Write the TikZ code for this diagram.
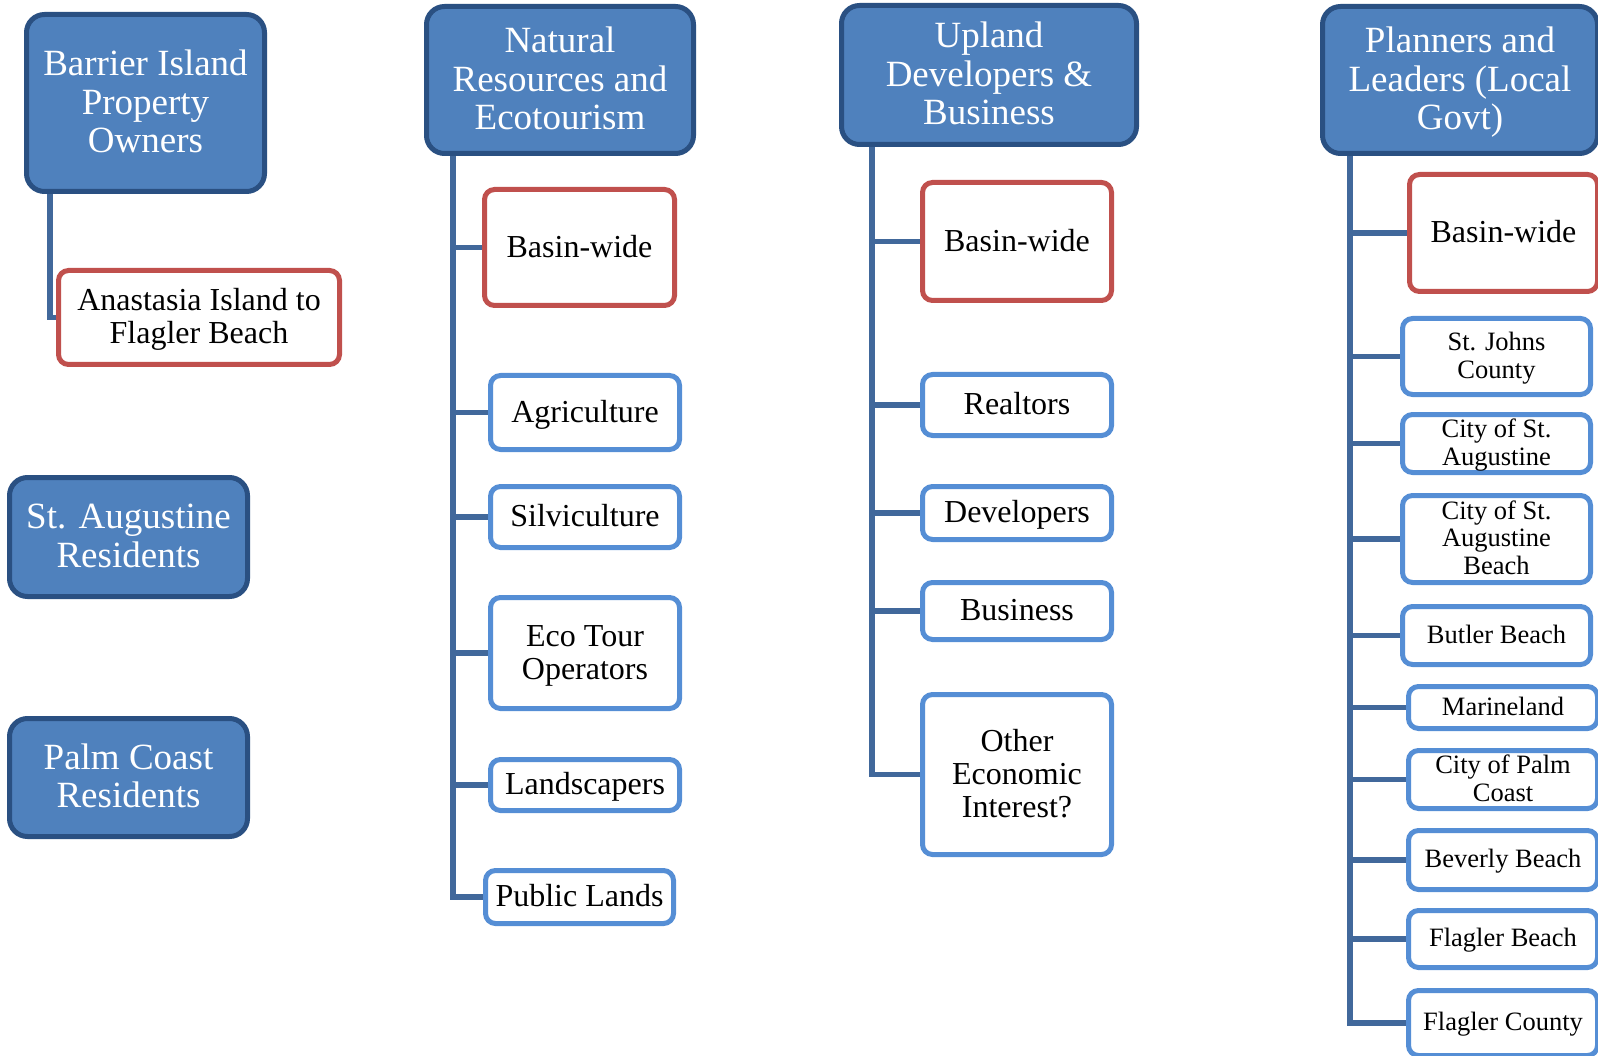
\documentclass[tikz,border=0pt]{standalone}
\usepackage{fontspec}
\setmainfont{Liberation Serif}
\usetikzlibrary{backgrounds}
\definecolor{hdrfill}{HTML}{4F81BD}
\definecolor{hdrline}{HTML}{2A5082}
\definecolor{kidblue}{HTML}{558ED5}
\definecolor{kidred}{HTML}{C0504D}
\definecolor{connc}{HTML}{41689B}
\newcommand{\fs}{\rule[-0.25em]{0pt}{1.1em}}
\newcommand{\nls}{\lineskiplimit=-1000pt\relax}
\begin{document}
\begin{tikzpicture}[x=1pt,y=-1pt,
  hdr/.style={draw=hdrline, fill=hdrfill, line width=5pt, rounded corners=18pt,
    text=white, font={\fontsize{37}{38.5}\selectfont\nls}, align=center, inner sep=0pt},
  kid/.style={draw=kidblue, fill=white, line width=5pt, rounded corners=10pt,
    text=black, font={\fontsize{32}{33}\selectfont\nls}, align=center, inner sep=0pt},
  kidr/.style={kid, draw=kidred},
  smalltxt/.style={font={\fontsize{26.5}{27.5}\selectfont\nls}},
  conn/.style={draw=connc, line width=5.5pt}]
\useasboundingbox (0,0) rectangle (1598,1056);
\clip (0,0) rectangle (1598,1056);

% trunk coordinates
\coordinate (t1) at (50,190);
\coordinate (t2) at (453,150);
\coordinate (t3) at (872,140);
\coordinate (t4) at (1350,150);

% ---------- nodes ----------
\path
  node[hdr, minimum width=238, minimum height=177] (h1) at (145.5,103) {\fs Barrier Island\\\fs Property\\\fs Owners}
  node[hdr, minimum width=238, minimum height=119] (h1b) at (128.5,537) {\fs St. Augustine\\\fs Residents}
  node[hdr, minimum width=238, minimum height=118] (h1c) at (128.5,777.5) {\fs Palm Coast\\\fs Residents}
  node[kidr, minimum width=281, minimum height=94] (c1) at (199,317.5) {\fs Anastasia Island to\\\fs Flagler Beach}
  %
  node[hdr, minimum width=267, minimum height=147] (h2) at (560,80) {\fs Natural\\\fs Resources and\\\fs Ecotourism}
  node[kidr, minimum width=190, minimum height=116] (c2a) at (579.5,247.5) {\fs Basin-wide}
  node[kid, minimum width=189, minimum height=74] (c2b) at (585,412.5) {\fs Agriculture}
  node[kid, minimum width=189, minimum height=61] (c2c) at (585,517) {\fs Silviculture}
  node[kid, minimum width=189, minimum height=111] (c2d) at (585,653) {\fs Eco Tour\\\fs Operators}
  node[kid, minimum width=189, minimum height=51] (c2e) at (585,785) {\fs Landscapers}
  node[kid, minimum width=188, minimum height=53] (c2f) at (579.5,897) {\fs Public Lands}
  %
  node[hdr, minimum width=295, minimum height=139] (h3) at (989,75) {\fs Upland\\\fs Developers \&\\\fs Business}
  node[kidr, minimum width=189, minimum height=118] (c3a) at (1017,241.5) {\fs Basin-wide}
  node[kid, minimum width=189, minimum height=61] (c3b) at (1017,405) {\fs Realtors}
  node[kid, minimum width=189, minimum height=53] (c3c) at (1017,513) {\fs Developers}
  node[kid, minimum width=189, minimum height=57] (c3d) at (1017,611) {\fs Business}
  node[kid, minimum width=189, minimum height=160] (c3e) at (1017,774.5) {\fs Other\\\fs Economic\\\fs Interest?}
  %
  node[hdr, minimum width=275, minimum height=147] (h4) at (1460,80) {\fs Planners and\\\fs Leaders (Local\\\fs Govt)}
  node[kidr, minimum width=188, minimum height=117] (c4a) at (1503.5,233) {\fs Basin-wide}
  node[kid, smalltxt, minimum width=188, minimum height=76] (c4b) at (1496.5,356.5) {\fs St. Johns\\\fs County}
  node[kid, smalltxt, minimum width=188, minimum height=58] (c4c) at (1496.5,443.5) {\fs City of St.\\\fs Augustine}
  node[kid, smalltxt, minimum width=188, minimum height=87] (c4d) at (1496.5,539) {\fs City of St.\\\fs Augustine\\\fs Beach}
  node[kid, smalltxt, minimum width=188, minimum height=58] (c4e) at (1496.5,635.5) {\fs Butler Beach}
  node[kid, smalltxt, minimum width=189, minimum height=42] (c4f) at (1503,707.5) {\fs Marineland}
  node[kid, smalltxt, minimum width=189, minimum height=58] (c4g) at (1503,779.5) {\fs City of Palm\\\fs Coast}
  node[kid, smalltxt, minimum width=189, minimum height=59] (c4h) at (1503,860) {\fs Beverly Beach}
  node[kid, smalltxt, minimum width=189, minimum height=57] (c4i) at (1503,939) {\fs Flagler Beach}
  node[kid, smalltxt, minimum width=189, minimum height=65] (c4j) at (1503,1023) {\fs Flagler County};

% ---------- connectors (behind nodes) ----------
\begin{scope}[on background layer]
  \draw[conn] (t1) |- (c1.west);
  \draw[conn] (t2) |- (c2f.west);
  \foreach \c in {c2a,c2b,c2c,c2d,c2e}
    \draw[conn] (\c.west) -- (\c.west -| t2);
  \draw[conn] (t3) |- (c3e.west);
  \foreach \c in {c3a,c3b,c3c,c3d}
    \draw[conn] (\c.west) -- (\c.west -| t3);
  \draw[conn] (t4) |- (c4j.west);
  \foreach \c in {c4a,c4b,c4c,c4d,c4e,c4f,c4g,c4h,c4i}
    \draw[conn] (\c.west) -- (\c.west -| t4);
\end{scope}
\end{tikzpicture}
\end{document}
